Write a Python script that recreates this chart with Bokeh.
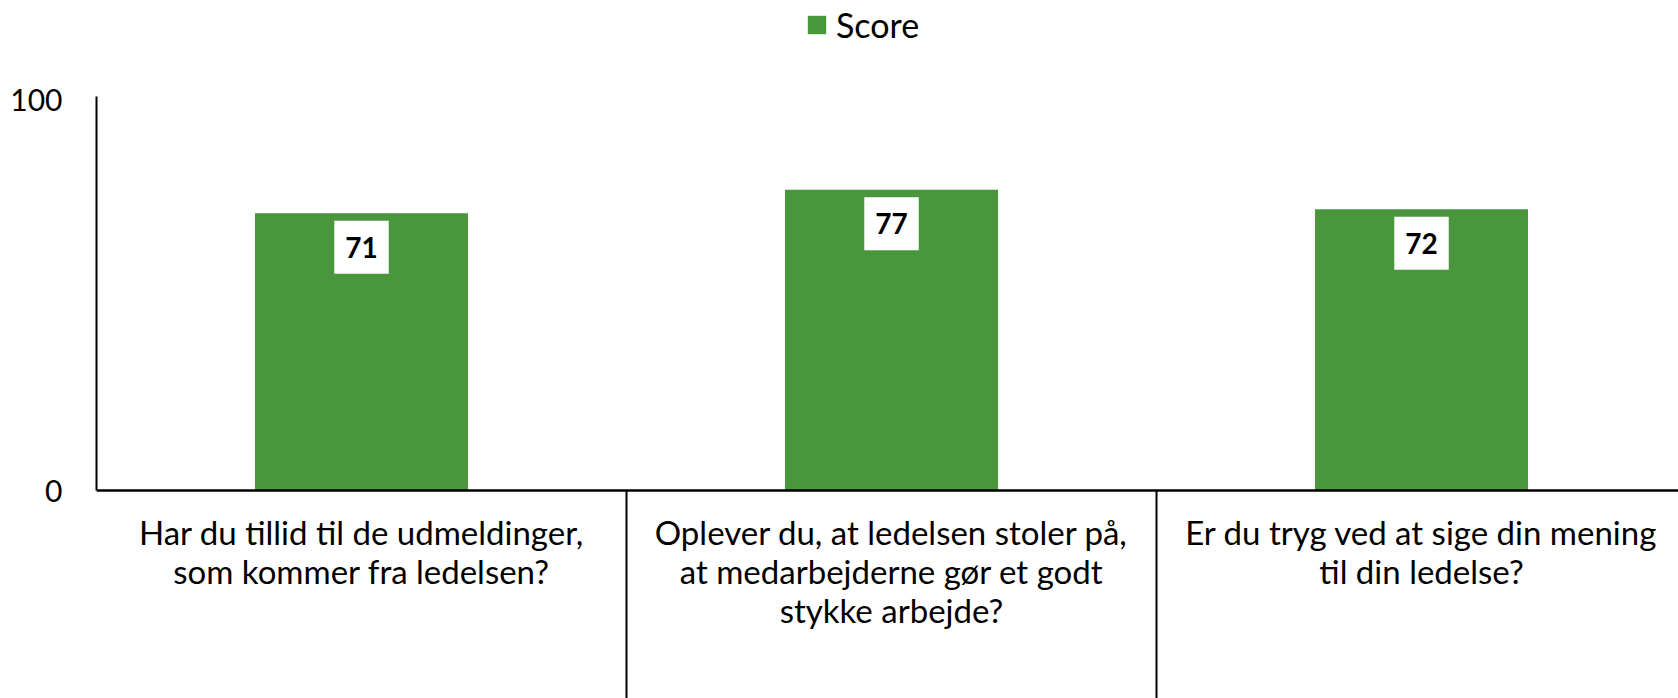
from bokeh.plotting import figure
from bokeh.models import Range1d, FixedTicker, Span, Legend, LegendItem, ColumnDataSource
from bokeh.core.properties import value
from bokeh.embed import file_html
from bokeh.resources import INLINE

# ---- data ----
categories = [
    "Har du tillid til de udmeldinger,\nsom kommer fra ledelsen?",
    "Oplever du, at ledelsen stoler på,\nat medarbejderne gør et godt\nstykke arbejde?",
    "Er du tryg ved at sige din mening\ntil din ledelse?",
]
scores = [71, 77, 72]
series_name = "Score"
y_ticks = [0, 100]

GREEN = "#4A963D"
FONT = "Lato"

# ---- layout constants (pixels) ----
W, H = 1678, 698
left_px = 96            # frame left inside canvas
px_per_unit = 3.905     # vertical pixels per score unit
zero_canvas = 490       # canvas y of the zero line
cat_px = 530            # width of one category slot
axis_overhang = 3.5     # y axis line extends slightly above the top tick (px)

y_top = zero_canvas / px_per_unit
y_bot = -(H - zero_canvas) / px_per_unit
x_end = (W - left_px) / cat_px

p = figure(width=W, height=H, output_backend="svg", toolbar_location=None,
           x_range=Range1d(0, x_end), y_range=Range1d(y_bot, y_top),
           x_axis_location=None, min_border_left=left_px, min_border_right=0,
           min_border_top=0, min_border_bottom=0)
p.outline_line_color = None
p.grid.visible = False
p.background_fill_color = "white"

xs = [i + 0.5 for i in range(len(categories))]
src = ColumnDataSource(dict(x=xs, top=scores, lab=[str(v) for v in scores], cat=categories))

bars = p.vbar(x="x", top="top", width=0.402, source=src, fill_color=GREEN, line_color=None)

# data labels in white boxes
p.text(x="x", y="top", text="lab", source=src, y_offset=34,
       text_font=value(FONT), text_font_style="bold", text_font_size="28px",
       text_align="center", text_baseline="middle", text_color="black",
       background_fill_color="white", padding=(11, 16))

# y axis
ax = p.yaxis[0]
ax.ticker = FixedTicker(ticks=y_ticks)
ax.bounds = (0, max(y_ticks) + axis_overhang / px_per_unit)
ax.major_tick_out = 0
ax.major_tick_in = 0
ax.minor_tick_out = 0
ax.minor_tick_in = 0
ax.axis_line_width = 2
ax.axis_line_color = "black"
ax.major_label_standoff = 34
ax.major_label_text_font = FONT
ax.major_label_text_font_size = "30px"
ax.major_label_text_color = "black"

# category axis line and separators
p.add_layout(Span(location=0, dimension="width", line_color="black", line_width=2.5))
seps = list(range(1, len(categories)))
p.segment(x0=seps, x1=seps, y0=[0] * len(seps), y1=[y_bot] * len(seps),
          line_color="black", line_width=2)

# category labels
p.text(x="x", y=0, text="cat", source=src, y_offset=21,
       text_font=value(FONT), text_font_size="33px", text_line_height=0.985,
       text_align="center", text_baseline="top", text_color="black")

# legend
leg = Legend(items=[LegendItem(label=series_name, renderers=[bars])],
             location=(709, 653), orientation="horizontal",
             glyph_width=23, glyph_height=23, label_standoff=8,
             padding=0, margin=0, border_line_color=None, background_fill_alpha=0,
             label_text_font=FONT, label_text_font_size="34px", label_text_color="black")
p.add_layout(leg)

open("out.html", "w").write(file_html(p, INLINE))
